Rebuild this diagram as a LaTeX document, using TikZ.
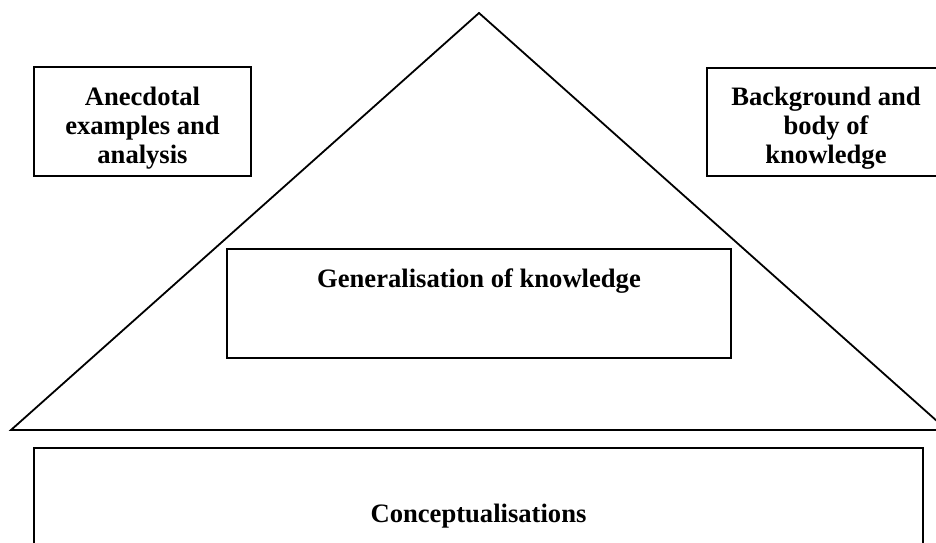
\documentclass[tikz,border=0pt]{standalone}
\usepackage{fontspec}
\setmainfont{Liberation Serif}
\begin{document}
\begin{tikzpicture}[x=1pt,y=1pt,
  lbl/.style={font=\bfseries\fontsize{26.6}{30}\selectfont, inner sep=0pt, anchor=base},
  boxshape/.style={draw, line width=1.8pt, rectangle, inner sep=0pt},
  tri/.style={draw, line width=1.8pt, line join=miter}]
\useasboundingbox (0,0) rectangle (936,542);
\clip (0,0) rectangle (936,542);
% triangle
\coordinate (apex) at (479,529);
\coordinate (bl) at (11,112);
\coordinate (br) at (947,112);
\draw[tri] (bl) -- (apex) -- (br) -- cycle;
% left box
\node[boxshape, minimum width=217pt, minimum height=109pt] (anec) at (142.5,420.5) {};
\begin{scope}
\clip ([yshift=7pt]anec.south west) rectangle (anec.north east);
\node[lbl] (anec1) at (142.5,436) {Anecdotal};
\node[lbl] (anec2) at (142.5,407.5) {examples and};
\node[lbl] (anec3) at (142.5,379) {analysis};
\end{scope}
\node[boxshape, minimum width=217pt, minimum height=109pt] at (anec) {};
% right box
\node[boxshape, minimum width=238pt, minimum height=108pt] (back) at (826,420) {};
\begin{scope}
\clip ([yshift=7pt]back.south west) rectangle (back.north east);
\node[lbl] (back1) at (826,436) {Background and};
\node[lbl] (back2) at (826,407.5) {body of};
\node[lbl] (back3) at (826,379) {knowledge};
\end{scope}
\node[boxshape, minimum width=238pt, minimum height=108pt] at (back) {};
% middle box
\node[boxshape, fill=white, minimum width=504pt, minimum height=109pt] (gen) at (479,238.5) {};
\node[lbl] (gentext) at (479,255) {Generalisation of knowledge};
% bottom box
\node[boxshape, minimum width=889pt, minimum height=130pt] (conc) at (478.5,29) {};
\node[lbl] (conctext) at (478.5,20) {Conceptualisations};
\end{tikzpicture}
\end{document}
